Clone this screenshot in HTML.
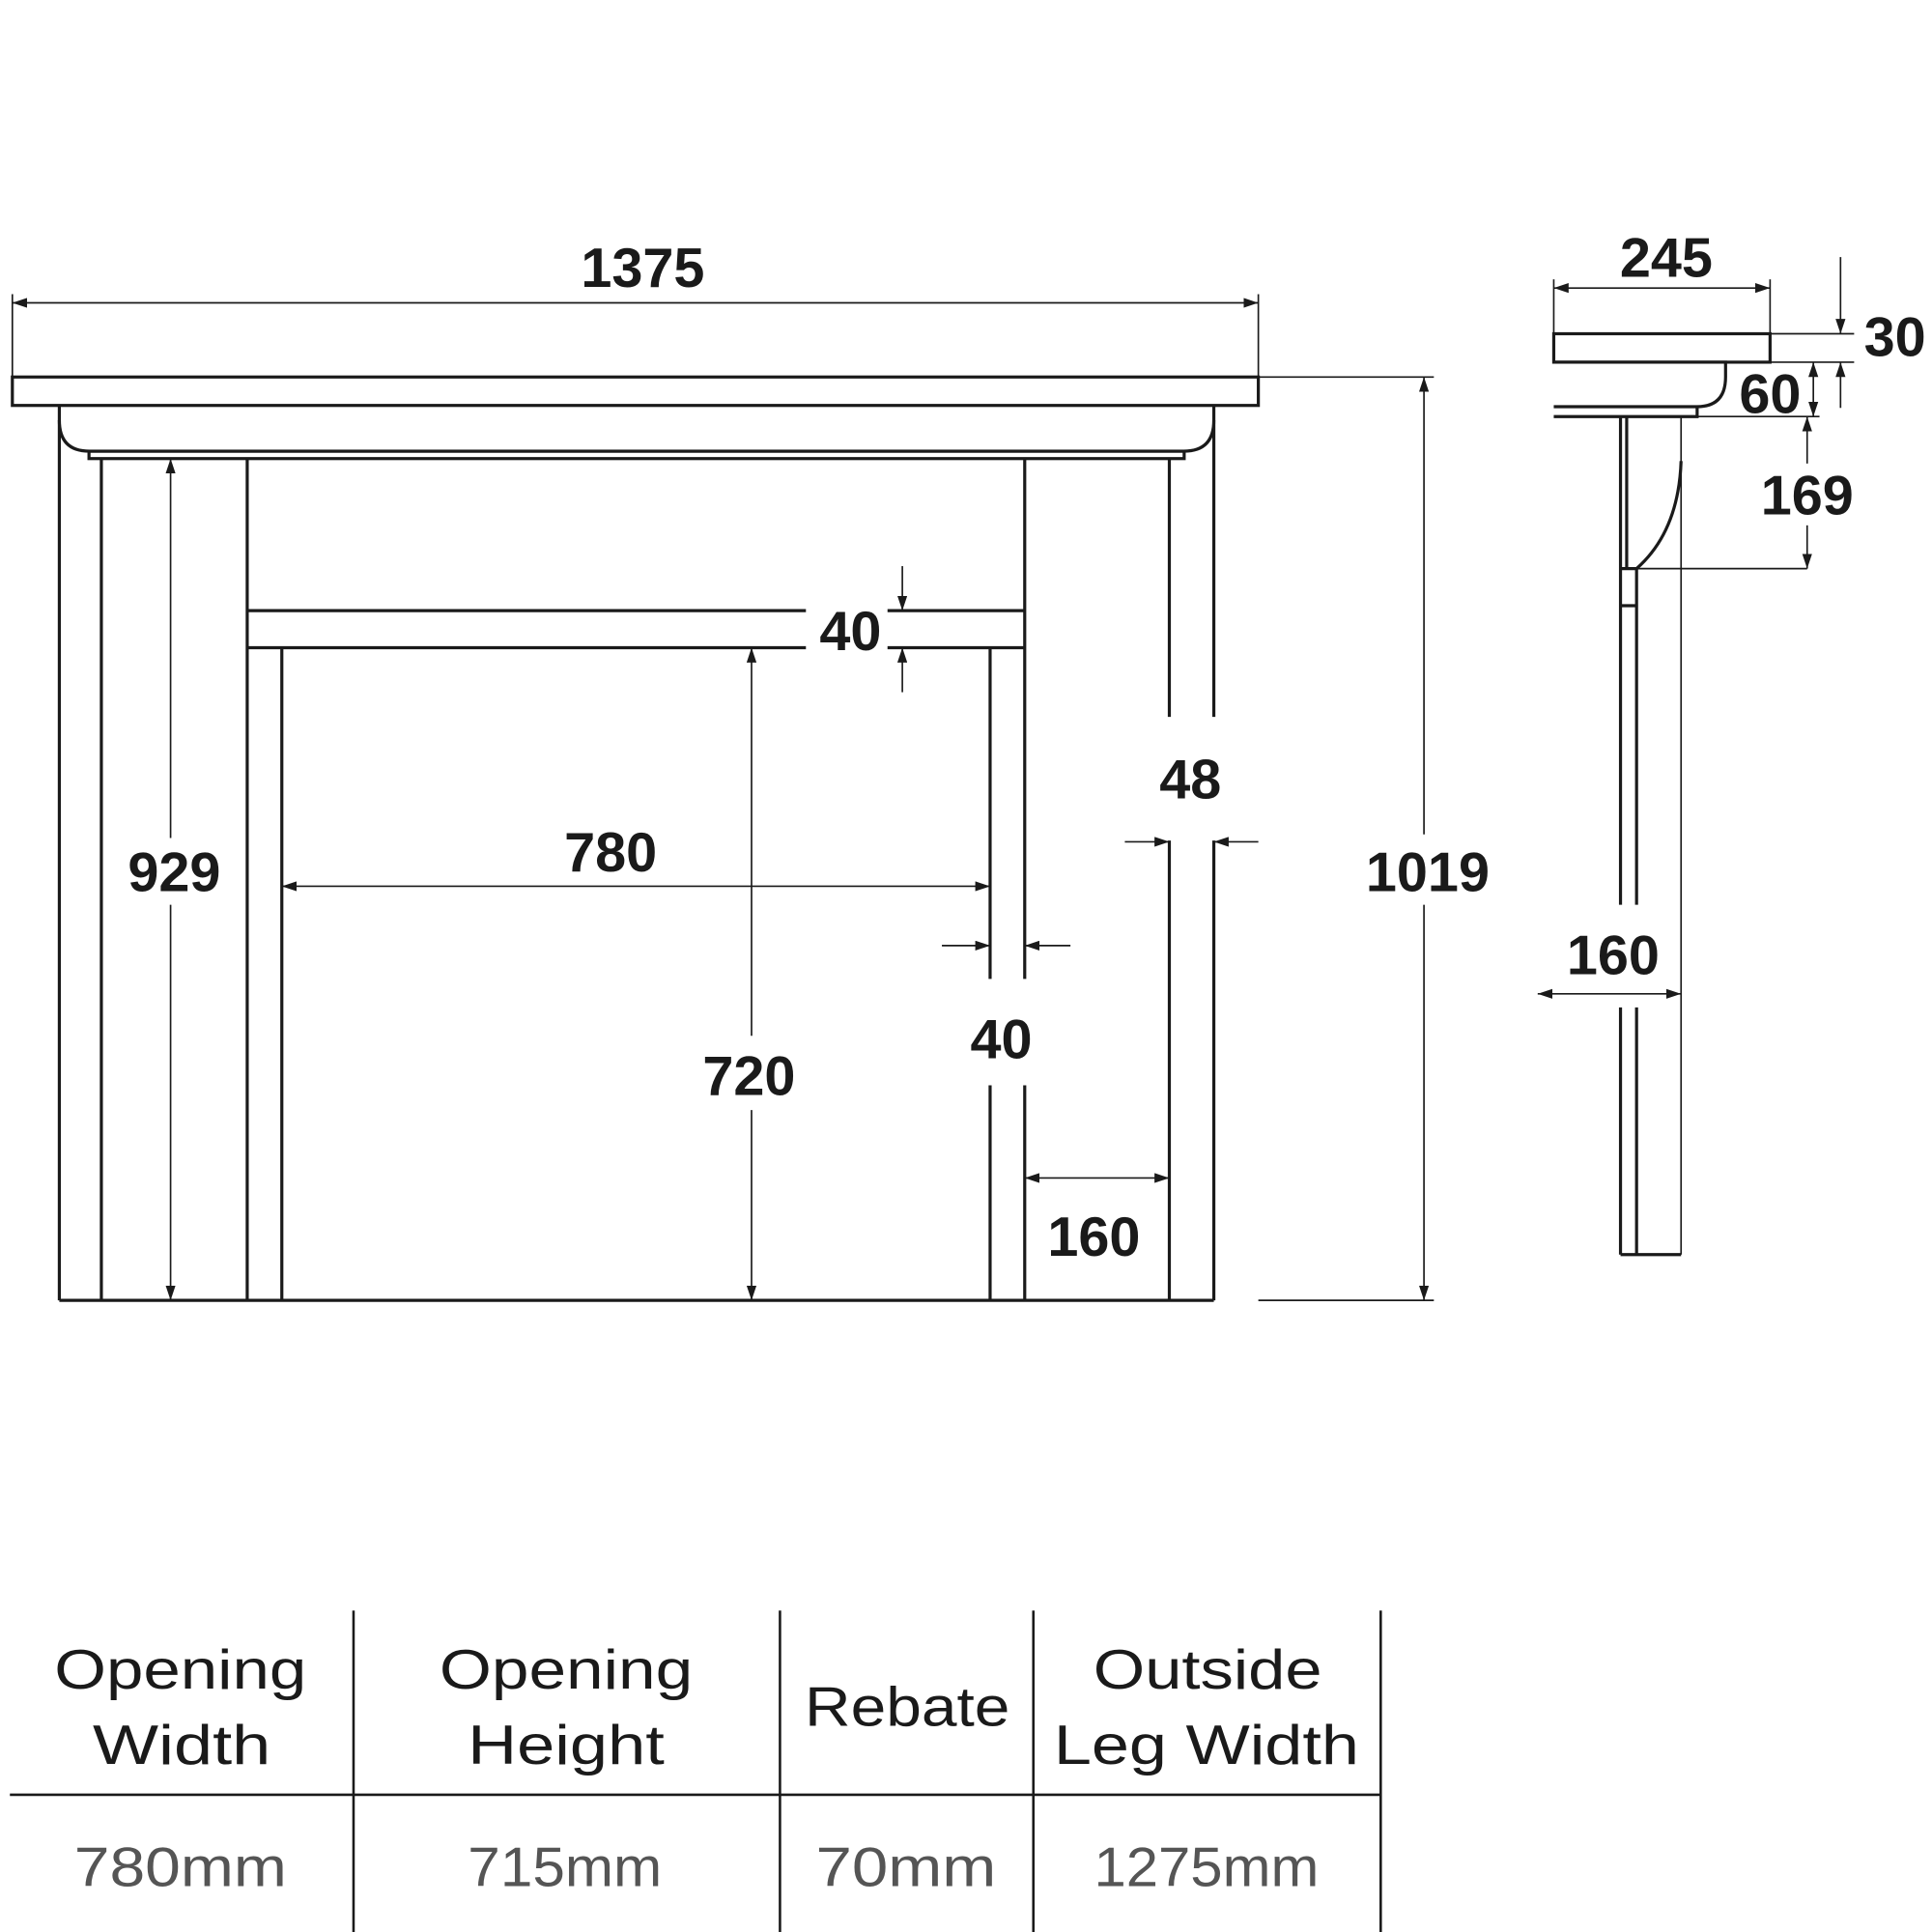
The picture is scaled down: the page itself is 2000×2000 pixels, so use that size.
<!DOCTYPE html>
<html><head><meta charset="utf-8"><style>
html,body{margin:0;padding:0;background:#fff;}
svg{display:block}
.d{font-family:"Liberation Sans",Arial,sans-serif;font-weight:bold;font-size:45px;fill:#1a1a1a;text-anchor:middle}
.t{font-family:"Liberation Sans",Arial,sans-serif;font-size:45px;fill:#1a1a1a;text-anchor:middle}
.v{font-family:"Liberation Sans",Arial,sans-serif;font-size:45px;fill:#555;text-anchor:middle}
</style></head><body>
<svg width="2000" height="2000" viewBox="0 0 1563 1563" xmlns="http://www.w3.org/2000/svg">
<defs>
<marker id="a" viewBox="0 0 12 8" refX="12" refY="4" markerWidth="12" markerHeight="8" orient="auto-start-reverse" markerUnits="userSpaceOnUse">
<path d="M0,0 L12,4 L0,8 z" fill="#1a1a1a"/></marker>
</defs>
<g stroke="#1a1a1a" stroke-width="2.5" fill="none">
<rect x="10" y="305" width="1008" height="23"/>
<path d="M48,328 L48,340 Q48,365 72,365 L958,365 Q982,365 982,340 L982,328"/>
<rect x="72" y="365" width="886" height="6"/>
<line x1="48" y1="340" x2="48" y2="1052"/>
<line x1="82" y1="371" x2="82" y2="1052"/>
<line x1="200" y1="371" x2="200" y2="1052"/>
<line x1="228" y1="524" x2="228" y2="1052"/>
<line x1="801" y1="524" x2="801" y2="792"/>
<line x1="801" y1="878" x2="801" y2="1052"/>
<line x1="829" y1="371" x2="829" y2="792"/>
<line x1="829" y1="878" x2="829" y2="1052"/>
<line x1="946" y1="371" x2="946" y2="580"/>
<line x1="946" y1="680" x2="946" y2="1052"/>
<line x1="982" y1="340" x2="982" y2="580"/>
<line x1="982" y1="680" x2="982" y2="1052"/>
<line x1="200" y1="494" x2="652" y2="494"/>
<line x1="718" y1="494" x2="829" y2="494"/>
<line x1="200" y1="524" x2="652" y2="524"/>
<line x1="718" y1="524" x2="829" y2="524"/>
<line x1="48" y1="1052" x2="982" y2="1052"/>
</g>
<g stroke="#1a1a1a" stroke-width="1.3" fill="none">
<line x1="10" y1="245" x2="1018" y2="245" marker-start="url(#a)" marker-end="url(#a)"/>
<line x1="10" y1="238" x2="10" y2="305"/>
<line x1="1018" y1="238" x2="1018" y2="305"/>
<line x1="138" y1="678" x2="138" y2="371" marker-end="url(#a)"/>
<line x1="138" y1="732" x2="138" y2="1052" marker-end="url(#a)"/>
<line x1="228" y1="717" x2="801" y2="717" marker-start="url(#a)" marker-end="url(#a)"/>
<line x1="608" y1="838" x2="608" y2="524" marker-end="url(#a)"/>
<line x1="608" y1="898" x2="608" y2="1052" marker-end="url(#a)"/>
<line x1="730" y1="458" x2="730" y2="494" marker-end="url(#a)"/>
<line x1="730" y1="560" x2="730" y2="524" marker-end="url(#a)"/>
<line x1="762" y1="765" x2="801" y2="765" marker-end="url(#a)"/>
<line x1="866" y1="765" x2="829" y2="765" marker-end="url(#a)"/>
<line x1="910" y1="681" x2="946" y2="681" marker-end="url(#a)"/>
<line x1="1018" y1="681" x2="982" y2="681" marker-end="url(#a)"/>
<line x1="829" y1="953" x2="946" y2="953" marker-start="url(#a)" marker-end="url(#a)"/>
<line x1="1018" y1="305" x2="1160" y2="305"/>
<line x1="1018" y1="1052" x2="1160" y2="1052"/>
<line x1="1152" y1="675" x2="1152" y2="305" marker-end="url(#a)"/>
<line x1="1152" y1="732" x2="1152" y2="1052" marker-end="url(#a)"/>
</g>
<g stroke="#1a1a1a" stroke-width="2.5" fill="none">
<rect x="1257" y="270" width="175" height="23"/>
<path d="M1257,293 L1396,293 L1396,305 Q1396,329 1373,329 L1257,329"/>
<path d="M1257,337 L1373,337 L1373,329"/>
<line x1="1311" y1="337" x2="1311" y2="732"/>
<line x1="1316" y1="337" x2="1316" y2="460"/>
<line x1="1324" y1="460" x2="1324" y2="732"/>
<line x1="1311" y1="815" x2="1311" y2="1015"/>
<line x1="1324" y1="815" x2="1324" y2="1015"/>
<line x1="1311" y1="460" x2="1324" y2="460"/>
<line x1="1311" y1="490" x2="1324" y2="490"/>
<line x1="1311" y1="1015" x2="1360" y2="1015"/>
<path d="M1360,373 Q1358,430 1324,460"/>
</g>
<g stroke="#1a1a1a" stroke-width="1.3" fill="none">
<line x1="1360" y1="337" x2="1360" y2="1015"/>
<line x1="1257" y1="233" x2="1432" y2="233" marker-start="url(#a)" marker-end="url(#a)"/>
<line x1="1257" y1="226" x2="1257" y2="270"/>
<line x1="1432" y1="226" x2="1432" y2="270"/>
<line x1="1432" y1="270" x2="1500" y2="270"/>
<line x1="1432" y1="293" x2="1500" y2="293"/>
<line x1="1489" y1="208" x2="1489" y2="270" marker-end="url(#a)"/>
<line x1="1489" y1="330" x2="1489" y2="293" marker-end="url(#a)"/>
<line x1="1373" y1="337" x2="1472" y2="337"/>
<line x1="1467" y1="293" x2="1467" y2="337" marker-start="url(#a)" marker-end="url(#a)"/>
<line x1="1462" y1="375" x2="1462" y2="337" marker-end="url(#a)"/>
<line x1="1462" y1="425" x2="1462" y2="460" marker-end="url(#a)"/>
<line x1="1324" y1="460" x2="1462" y2="460"/>
<line x1="1244" y1="804" x2="1360" y2="804" marker-start="url(#a)" marker-end="url(#a)"/>
</g>
<text class="d" x="520" y="232">1375</text>
<text class="d" x="141" y="721">929</text>
<text class="d" x="494" y="705">780</text>
<text class="d" x="606" y="886">720</text>
<text class="d" x="688" y="526">40</text>
<text class="d" x="810" y="856">40</text>
<text class="d" x="963" y="646">48</text>
<text class="d" x="885" y="1016">160</text>
<text class="d" x="1155" y="721">1019</text>
<text class="d" x="1348" y="224">245</text>
<text class="d" x="1533" y="288">30</text>
<text class="d" x="1432" y="334">60</text>
<text class="d" x="1462" y="416">169</text>
<text class="d" x="1305" y="788">160</text>
<g stroke="#1a1a1a" stroke-width="2">
<line x1="286" y1="1303" x2="286" y2="1563"/>
<line x1="631" y1="1303" x2="631" y2="1563"/>
<line x1="836" y1="1303" x2="836" y2="1563"/>
<line x1="1117" y1="1303" x2="1117" y2="1563"/>
<line x1="8" y1="1452" x2="1117" y2="1452"/>
</g>
<text class="t" x="146" y="1366" textLength="204" lengthAdjust="spacingAndGlyphs">Opening</text>
<text class="t" x="147" y="1427" textLength="144" lengthAdjust="spacingAndGlyphs">Width</text>
<text class="t" x="458" y="1366" textLength="205" lengthAdjust="spacingAndGlyphs">Opening</text>
<text class="t" x="458" y="1427" textLength="159" lengthAdjust="spacingAndGlyphs">Height</text>
<text class="t" x="734" y="1396" textLength="166" lengthAdjust="spacingAndGlyphs">Rebate</text>
<text class="t" x="977" y="1366" textLength="185" lengthAdjust="spacingAndGlyphs">Outside</text>
<text class="t" x="976" y="1427" textLength="247" lengthAdjust="spacingAndGlyphs">Leg Width</text>
<text class="v" x="146" y="1526" textLength="172" lengthAdjust="spacingAndGlyphs">780mm</text>
<text class="v" x="457" y="1526" textLength="157" lengthAdjust="spacingAndGlyphs">715mm</text>
<text class="v" x="733" y="1526" textLength="146" lengthAdjust="spacingAndGlyphs">70mm</text>
<text class="v" x="976" y="1526" textLength="182" lengthAdjust="spacingAndGlyphs">1275mm</text>
</svg>
</body></html>
